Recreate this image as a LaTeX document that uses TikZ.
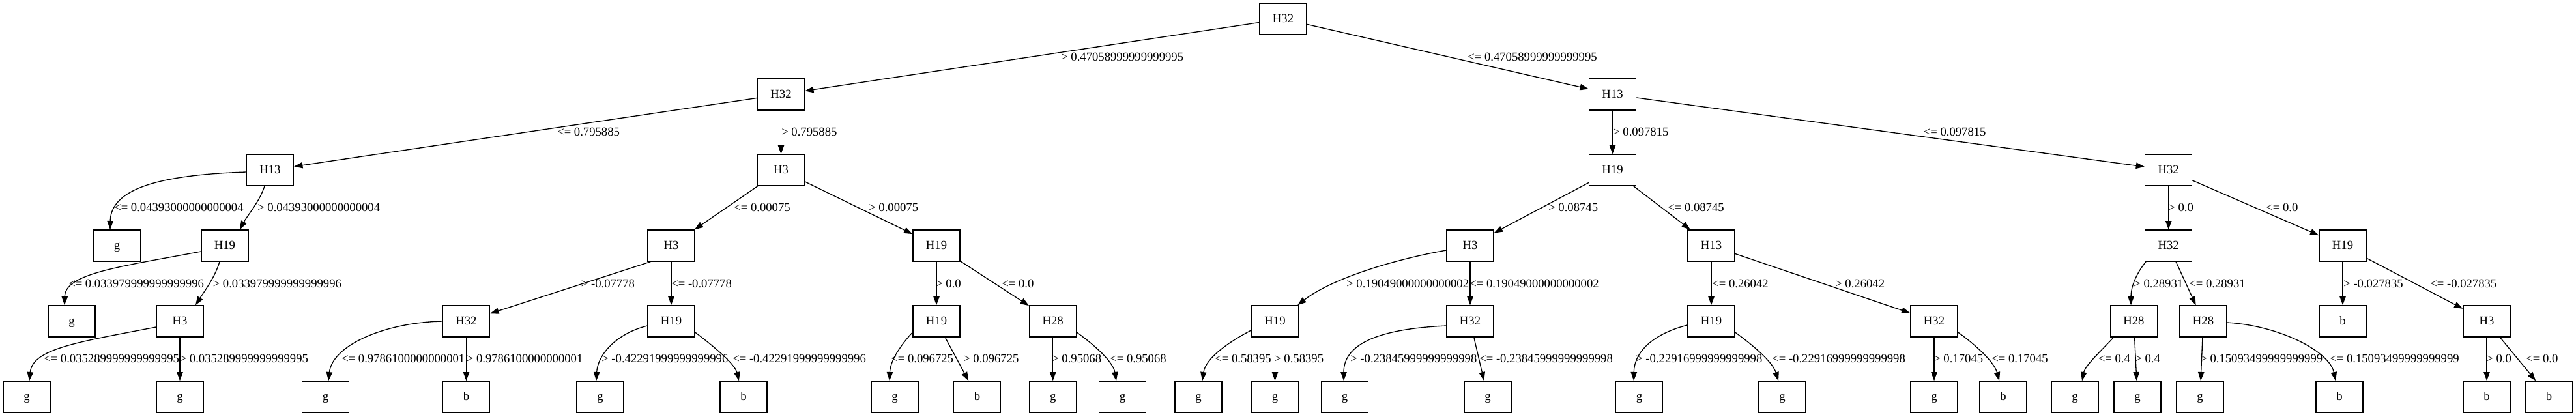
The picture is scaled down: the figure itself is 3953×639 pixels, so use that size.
\documentclass[tikz,border=0pt]{standalone}
\usepackage{fontspec}
\setmainfont{Liberation Serif}
\usetikzlibrary{arrows.meta,calc}
\begin{document}
\begin{tikzpicture}[x=0.75bp,y=-0.75bp,
  box/.style={draw,line width=1bp,minimum width=54bp,minimum height=36bp,inner sep=0pt,
    font=\fontsize{14bp}{16bp}\selectfont,text height=8.2bp,text depth=0pt},
  lbl/.style={anchor=west,inner sep=0pt,font=\fontsize{14bp}{16bp}\selectfont,text height=9bp,text depth=0pt},
  edge/.style={line width=1bp,-{Triangle[length=10bp,width=7bp]}}]
\fill[white] (0,0) rectangle (3953,639);
\useasboundingbox (0,0) rectangle (3953,639);
% row 0-2
\node[box] (r) at (1969,29) {H32};
\node[box] (a) at (1198.5,145) {H32};
\node[box] (b1) at (2474.5,145) {H13};
\node[box] (a1) at (414.5,261) {H13};
\node[box] (a2) at (1198.5,261) {H3};
\node[box] (c1) at (2474.5,261) {H19};
\node[box] (c2) at (3327.7,261) {H32};
% row 3
\node[box] (a1g) at (179.5,377) {g};
\node[box] (a1h) at (345,377) {H19};
\node[box] (a2l) at (1030,377) {H3};
\node[box] (a2r) at (1437,377) {H19};
\node[box] (c1l) at (2256,377) {H3};
\node[box] (c1r) at (2626,377) {H13};
\node[box] (c2l) at (3327.7,377) {H32};
\node[box] (c2r) at (3595,377) {H19};
% row 4
\node[box] (d1) at (110,493) {g};
\node[box] (d2) at (276,493) {H3};
\node[box] (d3) at (715.5,493) {H32};
\node[box] (d4) at (1030,493) {H19};
\node[box] (d5) at (1437,493) {H19};
\node[box] (d6) at (1615.7,493) {H28};
\node[box] (d7) at (1956.5,493) {H19};
\node[box] (d8) at (2256,493) {H32};
\node[box] (d9) at (2626,493) {H19};
\node[box] (d10) at (2968,493) {H32};
\node[box] (d11) at (3274.4,493) {H28};
\node[box] (d12) at (3381,493) {H28};
\node[box] (d13) at (3595,493) {b};
\node[box] (d14) at (3816,493) {H3};
% row 5
\node[box] (e1) at (41,609) {g};
\node[box] (e2) at (276,609) {g};
\node[box] (e3) at (499.5,609) {g};
\node[box] (e4) at (715.5,609) {b};
\node[box] (e5) at (921,609) {g};
\node[box] (e6) at (1141,609) {b};
\node[box] (e7) at (1373,609) {g};
\node[box] (e8) at (1499.5,609) {b};
\node[box] (e9) at (1615.7,609) {g};
\node[box] (e10) at (1722.6,609) {g};
\node[box] (e11) at (1839,609) {g};
\node[box] (e12) at (1956.5,609) {g};
\node[box] (e13) at (2063.5,609) {g};
\node[box] (e14) at (2283,609) {g};
\node[box] (e15) at (2515.6,609) {g};
\node[box] (e16) at (2735,609) {g};
\node[box] (e17) at (2968,609) {g};
\node[box] (e18) at (3074,609) {b};
\node[box] (e19) at (3184,609) {g};
\node[box] (e20) at (3280,609) {g};
\node[box] (e21) at (3376,609) {g};
\node[box] (e22) at (3590,609) {b};
\node[box] (e23) at (3816,609) {b};
\node[box] (e24) at (3911.5,609) {b};
% straight edges
\draw[edge] (r) -- (a);
\draw[edge] (r) -- (b1);
\draw[edge] (a) -- (a1);
\draw[edge] (a) -- (a2);
\draw[edge] (b1) -- (c1);
\draw[edge] (b1) -- (c2);
\draw[edge] (a2) -- (a2l);
\draw[edge] (a2) -- (a2r);
\draw[edge] (c1) -- (c1l);
\draw[edge] (c1) -- (c1r);
\draw[edge] (c2) -- (c2l);
\draw[edge] (c2) -- (c2r);
\draw[edge] ($(a2l.south west)+(5,0)$) -- (d3);
\draw[edge] (a2l) -- (d4);
\draw[edge] (a2r) -- (d5);
\draw[edge] (a2r) -- (d6);
\draw[edge] (c1l) -- (d8);
\draw[edge] (c1r) -- (d9);
\draw[edge] (c1r) -- (d10);
\draw[edge] (c2l) -- (d12);
\draw[edge] (c2r) -- (d13);
\draw[edge] (c2r) -- (d14);
\draw[edge] (d2) -- (e2);
\draw[edge] (d3) -- (e4);
\draw[edge] (d5) -- (e8);
\draw[edge] (d6) -- (e9);
\draw[edge] (d7) -- (e12);
\draw[edge] (d8) -- (e14);
\draw[edge] (d10) -- (e17);
\draw[edge] (d11) -- (e20);
\draw[edge] (d12) -- (e21);
\draw[edge] (d14) -- (e23);
\draw[edge] (d14) -- (e24);
% curved edges
\draw[edge] ($(a1.west)+(0,3)$) .. controls (260,268) and (170,285) .. ($(a1g.north)+(-10.5,0)$);
\draw[edge] ($(a1.south)+(-8.5,0)$) .. controls (398,310) and (380,330) .. ($(a1h.north)+(23,0)$);
\draw[edge] ($(a1h.west)+(0,9)$) .. controls (180,410) and (100,420) .. ($(d1.north)+(-11,0)$);
\draw[edge] ($(a1h.south)+(-8,0)$) .. controls (330,425) and (315,445) .. ($(d2.north)+(24,0)$);
\draw[edge] ($(d2.west)+(0,9)$) .. controls (120,525) and (50,535) .. ($(e1.north)+(4,0)$);
\draw[edge] (d3.west) .. controls (590,495) and (510,530) .. ($(e3.north)+(4.5,0)$);
\draw[edge] ($(d4.west)+(0,7)$) .. controls (945,512) and (917,545) .. ($(e5.north)+(-6,0)$);
\draw[edge] ($(d4.east)+(0,17)$) .. controls (1100,535) and (1128,560) .. ($(e6.north)+(-7,0)$);
\draw[edge] ($(d5.west)+(0,17)$) .. controls (1380,532) and (1366,555) .. ($(e7.north)+(-8,0)$);
\draw[edge] ($(d6.east)+(0,17)$) .. controls (1680,530) and (1708,555) .. ($(e10.north)+(-9.6,0)$);
\draw[edge] ($(c1l.west)+(0,7)$) .. controls (2130,400) and (2040,430) .. ($(d7.north east)+(-2,0)$);
\draw[edge] ($(d7.west)+(0,14)$) .. controls (1885,525) and (1850,550) .. ($(e11.north)+(6,0)$);
\draw[edge] ($(d8.west)+(0,7)$) .. controls (2110,505) and (2062,530) .. ($(e13.north)+(-1.5,0)$);
\draw[edge] ($(d9.west)+(0,6)$) .. controls (2545,510) and (2508,535) .. ($(e15.north)+(-8.6,0)$);
\draw[edge] ($(d9.east)+(0,17)$) .. controls (2690,530) and (2720,555) .. ($(e16.north)+(-6,0)$);
\draw[edge] ($(d10.east)+(0,17)$) .. controls (3030,528) and (3060,555) .. ($(e18.north)+(-6,0)$);
\draw[edge] ($(c2l.south)+(-34.7,0)$) .. controls (3278,420) and (3270,440) .. ($(d11.north)+(-4.4,0)$);
\draw[edge] ($(d11.south)+(-31,0)$) .. controls (3228,535) and (3200,560) .. ($(e19.north)+(11,0)$);
\draw[edge] ($(d12.east)+(0,2)$) .. controls (3500,500) and (3575,540) .. ($(e22.north)+(-6,0)$);
% labels
\node[lbl] (l1) at (1628,87) {> 0.47058999999999995};
\node[lbl] (l2) at (2252,87) {<= 0.47058999999999995};
\node[lbl] (l3) at (855,202) {<= 0.795885};
\node[lbl] (l4) at (1199,202) {> 0.795885};
\node[lbl] (l5) at (2475,202) {> 0.097815};
\node[lbl] (l6) at (2951.5,202) {<= 0.097815};
\node[lbl] (l7) at (175,318) {<= 0.04393000000000004};
\node[lbl] (l8) at (395,318) {> 0.04393000000000004};
\node[lbl] (l9) at (1126,318) {<= 0.00075};
\node[lbl] (l10) at (1333,318) {> 0.00075};
\node[lbl] (l11) at (2376,318) {> 0.08745};
\node[lbl] (l12) at (2559,318) {<= 0.08745};
\node[lbl] (l13) at (3327,318) {> 0.0};
\node[lbl] (l14) at (3477,318) {<= 0.0};
\node[lbl] (l15) at (105,435) {<= 0.033979999999999996};
\node[lbl] (l16) at (326.5,435) {> 0.033979999999999996};
\node[lbl] (l17) at (891.6,435) {> -0.07778};
\node[lbl] (l18) at (1030,435) {<= -0.07778};
\node[lbl] (l19) at (1436,435) {> 0.0};
\node[lbl] (l20) at (1537,435) {<= 0.0};
\node[lbl] (l21) at (2066,435) {> 0.19049000000000002};
\node[lbl] (l22) at (2255,435) {<= 0.19049000000000002};
\node[lbl] (l23) at (2627,435) {<= 0.26042};
\node[lbl] (l24) at (2816,435) {> 0.26042};
\node[lbl] (l25) at (3274,435) {> 0.28931};
\node[lbl] (l26) at (3359,435) {<= 0.28931};
\node[lbl] (l27) at (3596,435) {> -0.027835};
\node[lbl] (l28) at (3729,435) {<= -0.027835};
\node[lbl] (l29) at (67,550) {<= 0.035289999999999995};
\node[lbl] (l30) at (275.5,550) {> 0.035289999999999995};
\node[lbl] (l31) at (524,550) {<= 0.9786100000000001};
\node[lbl] (l32) at (715.6,550) {> 0.9786100000000001};
\node[lbl] (l33) at (923,550) {> -0.42291999999999996};
\node[lbl] (l34) at (1124,550) {<= -0.42291999999999996};
\node[lbl] (l35) at (1367,550) {<= 0.096725};
\node[lbl] (l36) at (1478,550) {> 0.096725};
\node[lbl] (l37) at (1614,550) {> 0.95068};
\node[lbl] (l38) at (1703,550) {<= 0.95068};
\node[lbl] (l39) at (1864,550) {<= 0.58395};
\node[lbl] (l40) at (1955,550) {> 0.58395};
\node[lbl] (l41) at (2072,550) {> -0.23845999999999998};
\node[lbl] (l42) at (2270,550) {<= -0.23845999999999998};
\node[lbl] (l43) at (2510,550) {> -0.22916999999999998};
\node[lbl] (l44) at (2719,550) {<= -0.22916999999999998};
\node[lbl] (l45) at (2967,550) {> 0.17045};
\node[lbl] (l46) at (3056,550) {<= 0.17045};
\node[lbl] (l47) at (3219.6,550) {<= 0.4};
\node[lbl] (l48) at (3276,550) {> 0.4};
\node[lbl] (l49) at (3376,550) {> 0.15093499999999999};
\node[lbl] (l50) at (3575,550) {<= 0.15093499999999999};
\node[lbl] (l51) at (3815,550) {> 0.0};
\node[lbl] (l52) at (3876,550) {<= 0.0};
\end{tikzpicture}
\end{document}
